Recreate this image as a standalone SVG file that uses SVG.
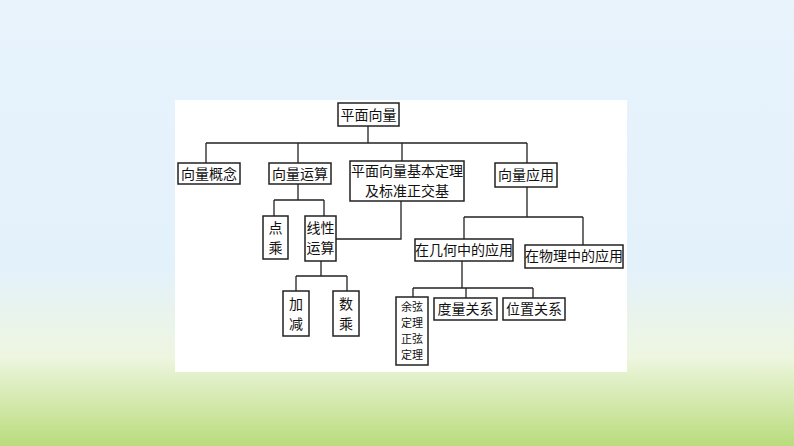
<svg xmlns="http://www.w3.org/2000/svg" width="794" height="446" viewBox="0 0 794 446">
<defs>
<linearGradient id="bg" x1="0" y1="0" x2="0" y2="1">
<stop offset="0" stop-color="#e8f3fc"/><stop offset="0.6" stop-color="#e3f1fb"/><stop offset="0.8" stop-color="#eef6e0"/><stop offset="1" stop-color="#b9dc7c"/>
</linearGradient>
<style>
.b{fill:#fff;stroke:#222;stroke-width:1.5}
.t{font-family:"Noto Sans CJK SC",sans-serif;font-size:14px;fill:#111;text-anchor:middle}
.s{font-size:11px}
.c{fill:none;stroke:#222;stroke-width:1.3}
</style>
</defs>
<rect width="794" height="446" fill="url(#bg)"/>
<rect x="175" y="100" width="452" height="272" fill="#fff"/>
<g id="connectors" class="c">
<path d="M368 126V143M206 143H527M206 143V163M298 143V163M402 143V161M527 143V163"/>
<path d="M298 184V200M274 200H324M274 200V216M324 200V216"/>
<path d="M401 201V239H336"/>
<path d="M527 187V217M464 217H583M464 217V239M583 217V245"/>
<path d="M321 261V276M296 276H347M296 276V291M347 276V291"/>
<path d="M462 261V288M413 288H533M413 288V297M466 288V298M533 288V298"/>
</g>
<g id="n1"><rect class="b" x="338" y="103" width="61" height="23"/><text class="t" x="368.5" y="120">平面向量</text></g>
<g id="n2"><rect class="b" x="178" y="163" width="62" height="21"/><text class="t" x="209" y="179">向量概念</text></g>
<g id="n3"><rect class="b" x="269" y="163" width="62" height="21"/><text class="t" x="300" y="179">向量运算</text></g>
<g id="n4"><rect class="b" x="350" y="161" width="114" height="40"/><text class="t" x="407" y="176">平面向量基本定理</text><text class="t" x="407" y="196">及标准正交基</text></g>
<g id="n5"><rect class="b" x="495" y="163" width="62" height="24"/><text class="t" x="526" y="180">向量应用</text></g>
<g id="n6"><rect class="b" x="263" y="216" width="25" height="43"/><text class="t" x="275.5" y="233">点</text><text class="t" x="275.5" y="253">乘</text></g>
<g id="n7"><rect class="b" x="305" y="216" width="31" height="45"/><text class="t" x="320.5" y="233">线性</text><text class="t" x="320.5" y="253">运算</text></g>
<g id="n8"><rect class="b" x="415" y="239" width="98" height="22"/><text class="t" x="464" y="255">在几何中的应用</text></g>
<g id="n9"><rect class="b" x="525" y="245" width="98" height="23"/><text class="t" x="574" y="261">在物理中的应用</text></g>
<g id="n10"><rect class="b" x="283" y="291" width="26" height="45"/><text class="t" x="296" y="309">加</text><text class="t" x="296" y="329">减</text></g>
<g id="n11"><rect class="b" x="333" y="291" width="26" height="45"/><text class="t" x="346" y="309">数</text><text class="t" x="346" y="329">乘</text></g>
<g id="n12"><rect class="b" x="396" y="297" width="32" height="68"/><text class="t s" x="412" y="311">余弦</text><text class="t s" x="412" y="327">定理</text><text class="t s" x="412" y="343">正弦</text><text class="t s" x="412" y="359">定理</text></g>
<g id="n13"><rect class="b" x="434" y="298" width="63" height="22"/><text class="t" x="465.5" y="314">度量关系</text></g>
<g id="n14"><rect class="b" x="503" y="298" width="62" height="22"/><text class="t" x="534" y="314">位置关系</text></g>
</svg>
